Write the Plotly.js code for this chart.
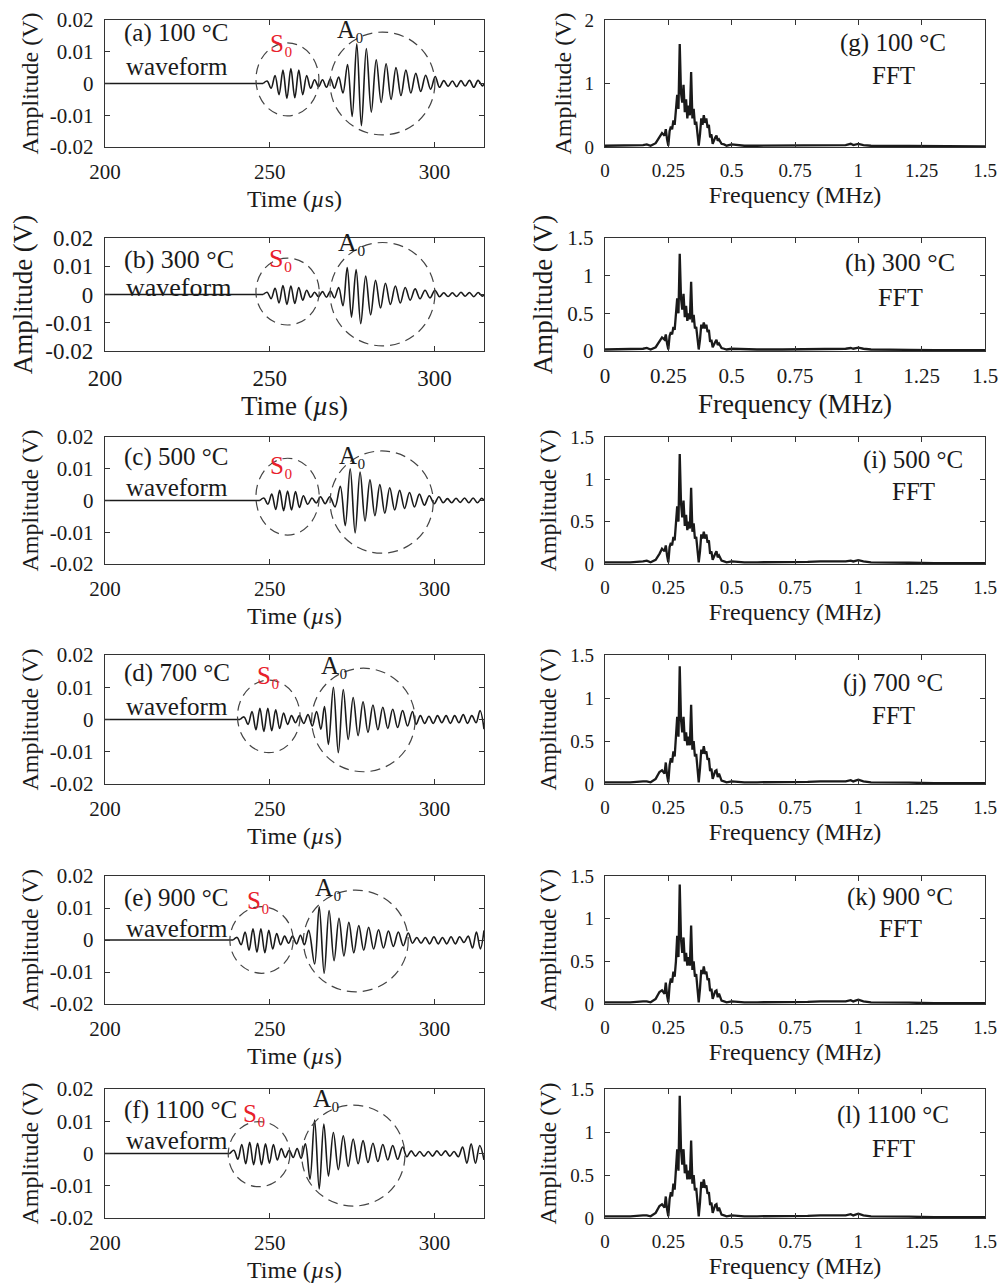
<!DOCTYPE html>
<html>
<head>
<meta charset="utf-8">
<script src="https://cdn.plot.ly/plotly-3.0.1.min.js"></script>
<style>html,body{margin:0;padding:0;background:#fff;}#chart{width:1003px;height:1287px;}</style>
</head>
<body>
<div id="chart"></div>
<script>
// ---------- Waveforms: time (µs) and amplitude (V) at the read extrema ----------
const tA = [200, 248.0, 249.2, 250.4, 251.6, 252.8, 254.0, 255.2, 256.4, 257.6,
  258.8, 260.0, 261.2, 262.4, 263.6, 264.8, 266.0, 267.2, 268.4, 269.6,
  270.9, 272.2, 273.6, 275.0, 276.4, 277.8, 279.3, 280.8, 282.3, 283.8,
  285.3, 286.8, 288.3, 289.8, 291.3, 292.8, 294.3, 295.8, 297.3, 298.8,
  300.2, 301.5, 302.8, 304.1, 305.4, 306.7, 308.0, 309.3, 310.6, 311.9,
  313.2, 314.5, 315];
const vA = [0, 0, 0.0008, -0.0015, 0.0025, -0.0035, 0.0042, -0.0047, 0.0047, -0.0045,
  0.0042, -0.0035, 0.0025, -0.0015, 0.0012, -0.0010, 0.0012, -0.0012, 0.0015, -0.0015,
  0.0020, -0.0030, 0.0060, -0.0104, 0.0125, -0.0133, 0.0110, -0.0090, 0.0075, -0.0060,
  0.0062, -0.0050, 0.0050, -0.0038, 0.0042, -0.0030, 0.0032, -0.0025, 0.0026, -0.0018,
  0.0022, -0.0012, 0.0009, -0.0009, 0.0008, -0.0010, 0.0009, -0.0008, 0.0010, -0.0012,
  0.0010, -0.0008, 0];

const tB = [200, 248.0, 249.2, 250.4, 251.6, 252.8, 254.0, 255.2, 256.4, 257.6,
  258.8, 260.0, 261.2, 262.4, 263.6, 264.8, 266.0, 267.2, 268.4, 269.6,
  270.9, 272.2, 273.5, 274.8, 276.2, 277.6, 279.1, 280.6, 282.1, 283.6,
  285.1, 286.6, 288.1, 289.6, 291.1, 292.6, 294.1, 295.6, 297.1, 298.6,
  300.1, 301.5, 302.8, 304.1, 305.4, 306.7, 308.0, 309.3, 310.6, 311.9,
  313.2, 314.5, 315];
const vB = [0, 0, 0.0008, -0.0015, 0.0022, -0.0030, 0.0032, -0.0035, 0.0030, -0.0032,
  0.0025, -0.0020, 0.0015, -0.0010, 0.0008, -0.0008, 0.0010, -0.0010, 0.0012, -0.0012,
  0.0025, -0.0040, 0.0095, -0.0080, 0.0088, -0.0103, 0.0065, -0.0072, 0.0050, -0.0048,
  0.0040, -0.0035, 0.0030, -0.0030, 0.0025, -0.0020, 0.0020, -0.0015, 0.0015, -0.0012,
  0.0015, -0.0008, 0.0006, -0.0007, 0.0006, -0.0007, 0.0008, -0.0006, 0.0007, -0.0008,
  0.0007, -0.0006, 0];

const tC = [200, 247.0, 248.2, 249.4, 250.6, 251.8, 253.0, 254.2, 255.4, 256.6,
  257.8, 259.0, 260.2, 261.5, 262.8, 264.1, 265.4, 266.8, 268.2,
  269.8, 271.4, 272.9, 274.4, 275.9, 277.4, 278.9, 280.4, 281.9, 283.4,
  284.9, 286.4, 287.9, 289.4, 290.9, 292.4, 293.9, 295.4, 296.9, 298.4,
  299.9, 301.3, 302.6, 303.9, 305.2, 306.5, 307.8, 309.1, 310.4, 311.7,
  313.0, 314.3, 315];
const vC = [0, 0, 0.0008, -0.0012, 0.0020, -0.0028, 0.0032, -0.0032, 0.0030, -0.0030,
  0.0028, -0.0022, 0.0015, -0.0012, 0.0008, -0.0008, 0.0012, -0.0010, 0.0012,
  -0.0020, 0.0045, -0.0079, 0.0100, -0.0102, 0.0090, -0.0065, 0.0065, -0.0048, 0.0050,
  -0.0040, 0.0040, -0.0030, 0.0032, -0.0025, 0.0025, -0.0020, 0.0020, -0.0015, 0.0015,
  -0.0010, 0.0012, -0.0007, 0.0006, -0.0007, 0.0007, -0.0006, 0.0008, -0.0007, 0.0008,
  -0.0007, 0.0007, 0];

const tD = [200, 241.0, 242.2, 243.4, 244.6, 245.8, 247.0, 248.2, 249.4, 250.6,
  251.8, 253.0, 254.2, 255.4, 256.6, 257.8, 259.0, 260.3, 261.6, 262.9,
  264.2, 265.5, 266.6, 267.8, 269.3, 270.8, 272.3, 273.8, 275.3, 276.8,
  278.3, 279.8, 281.3, 282.8, 284.3, 285.8, 287.3, 288.8, 290.3, 291.8,
  293.3, 294.4, 295.7, 297.0, 298.3, 299.6, 300.9, 302.2, 303.5, 304.8,
  306.1, 307.4, 308.7, 310.0, 311.3, 312.6, 313.8, 315];
const vD = [0, 0, 0.0008, -0.0015, 0.0025, -0.0032, 0.0035, -0.0037, 0.0035, -0.0035,
  0.0030, -0.0028, 0.0020, -0.0015, 0.0012, -0.0010, 0.0012, -0.0012, 0.0015, -0.0020,
  0.0025, -0.0030, 0.0040, -0.0077, 0.0100, -0.0103, 0.0093, -0.0062, 0.0068, -0.0050,
  0.0055, -0.0040, 0.0045, -0.0032, 0.0038, -0.0028, 0.0032, -0.0025, 0.0028, -0.0020,
  0.0025, -0.0015, 0.0012, -0.0012, 0.0010, -0.0012, 0.0012, -0.0010, 0.0012, -0.0012,
  0.0012, -0.0010, 0.0015, -0.0012, 0.0012, -0.0010, 0.0028, -0.0030];

const tE = [200, 238.9, 240.1, 241.3, 242.5, 243.7, 244.9, 246.1, 247.3, 248.5,
  249.7, 250.9, 252.1, 253.3, 254.5, 255.7, 256.9, 258.1, 259.3, 260.5,
  261.8, 263.6, 265.0, 266.5, 268.0, 269.5, 271.0, 272.5, 274.0, 275.5,
  277.0, 278.5, 280.0, 281.5, 283.0, 284.5, 286.0, 287.5, 289.0, 290.5,
  292.0, 293.3, 294.6, 295.9, 297.2, 298.5, 299.8, 301.1, 302.4, 303.7,
  305.0, 306.3, 307.6, 308.9, 310.2, 311.5, 312.7, 313.9, 315];
const vE = [0, 0, 0.0008, -0.0015, 0.0025, -0.0032, 0.0035, -0.0038, 0.0035, -0.0040,
  0.0030, -0.0028, 0.0020, -0.0015, 0.0012, -0.0010, 0.0012, -0.0012, 0.0015, -0.0015,
  0.0030, -0.0075, 0.0104, -0.0104, 0.0092, -0.0065, 0.0068, -0.0050, 0.0055, -0.0040,
  0.0045, -0.0032, 0.0040, -0.0028, 0.0032, -0.0025, 0.0028, -0.0020, 0.0025, -0.0018,
  0.0022, -0.0010, 0.0008, -0.0010, 0.0008, -0.0012, 0.0010, -0.0012, 0.0008, -0.0012,
  0.0010, -0.0012, 0.0010, -0.0008, 0.0012, -0.0025, 0.0025, -0.0028, 0.0030];

const tF = [200, 237.9, 239.1, 240.3, 241.5, 242.7, 243.9, 245.1, 246.3, 247.5,
  248.7, 249.9, 251.1, 252.3, 253.5, 254.7, 255.9, 257.1, 258.3, 259.5,
  260.8, 262.2, 263.6, 265.0, 266.4, 267.8, 269.3, 270.8, 272.3, 273.8,
  275.3, 276.8, 278.3, 279.8, 281.3, 282.8, 284.3, 285.8, 287.3, 288.8,
  290.3, 291.6, 292.9, 294.2, 295.5, 296.8, 298.1, 299.4, 300.7, 302.0,
  303.3, 304.6, 305.9, 307.2, 308.5, 309.8, 311.1, 312.4, 313.7, 315];
const vF = [0, 0, 0.0010, -0.0018, 0.0028, -0.0032, 0.0035, -0.0035, 0.0032, -0.0035,
  0.0030, -0.0030, 0.0028, -0.0020, 0.0015, -0.0012, 0.0010, -0.0012, 0.0015, -0.0015,
  0.0030, -0.0080, 0.0104, -0.0110, 0.0091, -0.0070, 0.0065, -0.0050, 0.0055, -0.0040,
  0.0045, -0.0032, 0.0040, -0.0028, 0.0032, -0.0025, 0.0028, -0.0020, 0.0025, -0.0018,
  0.0020, -0.0010, 0.0008, -0.0008, 0.0006, -0.0008, 0.0006, -0.0008, 0.0008, -0.0006,
  0.0008, -0.0008, 0.0006, -0.0010, 0.0020, -0.0030, 0.0030, -0.0030, 0.0025, -0.0020];

// ---------- FFT spectra: frequency (MHz) and amplitude (V) ----------
const fftFreq = [0, 0.05, 0.1, 0.15, 0.165, 0.18, 0.2, 0.215, 0.225, 0.235,
  0.24, 0.245, 0.25, 0.255, 0.26, 0.265, 0.27, 0.275, 0.28, 0.285,
  0.29, 0.295, 0.3, 0.305, 0.31, 0.315, 0.32, 0.325, 0.33, 0.335,
  0.34, 0.345, 0.35, 0.355, 0.36, 0.365, 0.37, 0.375, 0.38, 0.385,
  0.39, 0.395, 0.4, 0.405, 0.41, 0.415, 0.42, 0.425, 0.43, 0.435,
  0.44, 0.445, 0.45, 0.46, 0.47, 0.48, 0.5, 0.55, 0.6, 0.7,
  0.75, 0.8, 0.85, 0.9, 0.95, 0.97, 0.98, 1.0, 1.02, 1.05,
  1.1, 1.2, 1.3, 1.4, 1.5];
const fftG = [0.02, 0.02, 0.02, 0.03, 0.04, 0.02, 0.06, 0.15, 0.22, 0.18,
  0.28, 0.12, 0.02, 0.25, 0.32, 0.28, 0.42, 0.35, 0.55, 0.82,
  0.6, 1.62, 0.85, 0.7, 0.98, 0.55, 0.75, 0.45, 0.65, 0.5,
  1.18, 0.45, 0.6, 0.35, 0.4, 0.2, 0.02, 0.2, 0.45, 0.35,
  0.5, 0.38, 0.45, 0.3, 0.35, 0.15, 0.2, 0.05, 0.12, 0.15,
  0.18, 0.1, 0.12, 0.05, 0.04, 0.02, 0.04, 0.02, 0.02, 0.02,
  0.02, 0.025, 0.03, 0.03, 0.03, 0.05, 0.03, 0.05, 0.03, 0.02,
  0.02, 0.015, 0.01, 0.01, 0.01];
const fftH = [0.02, 0.02, 0.02, 0.03, 0.04, 0.02, 0.05, 0.12, 0.18, 0.15,
  0.22, 0.1, 0.02, 0.2, 0.25, 0.22, 0.32, 0.28, 0.45, 0.7,
  0.5, 1.29, 0.7, 0.55, 0.76, 0.45, 0.6, 0.4, 0.5, 0.42,
  0.92, 0.38, 0.48, 0.3, 0.32, 0.15, 0.02, 0.15, 0.35, 0.3,
  0.38, 0.3, 0.35, 0.25, 0.28, 0.12, 0.15, 0.05, 0.1, 0.12,
  0.15, 0.08, 0.1, 0.04, 0.03, 0.02, 0.03, 0.02, 0.02, 0.02,
  0.02, 0.025, 0.03, 0.03, 0.03, 0.04, 0.03, 0.045, 0.03, 0.02,
  0.02, 0.015, 0.01, 0.01, 0.01];
const fftI = [0.02, 0.02, 0.02, 0.03, 0.04, 0.02, 0.05, 0.12, 0.18, 0.15,
  0.22, 0.1, 0.02, 0.2, 0.25, 0.22, 0.32, 0.28, 0.45, 0.68,
  0.5, 1.30, 0.72, 0.55, 0.75, 0.45, 0.58, 0.4, 0.5, 0.42,
  0.90, 0.38, 0.48, 0.3, 0.32, 0.15, 0.02, 0.15, 0.35, 0.3,
  0.38, 0.3, 0.35, 0.25, 0.28, 0.12, 0.15, 0.05, 0.1, 0.12,
  0.15, 0.08, 0.1, 0.04, 0.03, 0.02, 0.03, 0.02, 0.02, 0.02,
  0.02, 0.025, 0.03, 0.03, 0.03, 0.04, 0.03, 0.045, 0.03, 0.02,
  0.02, 0.015, 0.01, 0.01, 0.01];
const fftJ = [0.02, 0.02, 0.02, 0.03, 0.03, 0.02, 0.06, 0.14, 0.16, 0.12,
  0.25, 0.1, 0.02, 0.22, 0.3, 0.25, 0.38, 0.32, 0.5, 0.78,
  0.55, 1.37, 0.75, 0.6, 0.78, 0.5, 0.6, 0.45, 0.55, 0.45,
  0.92, 0.4, 0.5, 0.32, 0.35, 0.18, 0.02, 0.18, 0.4, 0.35,
  0.44, 0.35, 0.38, 0.28, 0.3, 0.15, 0.18, 0.06, 0.12, 0.15,
  0.16, 0.08, 0.12, 0.04, 0.03, 0.02, 0.03, 0.02, 0.02, 0.02,
  0.02, 0.025, 0.03, 0.03, 0.03, 0.045, 0.03, 0.05, 0.03, 0.02,
  0.02, 0.015, 0.01, 0.01, 0.01];
const fftK = [0.02, 0.02, 0.02, 0.03, 0.03, 0.02, 0.06, 0.14, 0.16, 0.12,
  0.25, 0.1, 0.02, 0.22, 0.3, 0.25, 0.38, 0.32, 0.5, 0.8,
  0.55, 1.40, 0.76, 0.6, 0.78, 0.5, 0.6, 0.45, 0.55, 0.45,
  0.92, 0.4, 0.5, 0.32, 0.35, 0.18, 0.02, 0.18, 0.4, 0.35,
  0.44, 0.35, 0.38, 0.28, 0.3, 0.15, 0.18, 0.06, 0.12, 0.15,
  0.16, 0.08, 0.12, 0.04, 0.03, 0.02, 0.03, 0.02, 0.02, 0.02,
  0.02, 0.025, 0.03, 0.03, 0.03, 0.045, 0.03, 0.05, 0.03, 0.02,
  0.02, 0.015, 0.01, 0.01, 0.01];
const fftL = [0.02, 0.02, 0.02, 0.03, 0.03, 0.02, 0.06, 0.14, 0.16, 0.12,
  0.25, 0.1, 0.02, 0.22, 0.3, 0.25, 0.4, 0.33, 0.52, 0.8,
  0.55, 1.42, 0.8, 0.62, 0.8, 0.52, 0.62, 0.45, 0.55, 0.45,
  0.90, 0.4, 0.5, 0.32, 0.35, 0.18, 0.02, 0.18, 0.42, 0.35,
  0.45, 0.35, 0.38, 0.28, 0.3, 0.15, 0.18, 0.06, 0.12, 0.15,
  0.16, 0.08, 0.12, 0.04, 0.03, 0.02, 0.03, 0.02, 0.02, 0.02,
  0.02, 0.025, 0.03, 0.03, 0.03, 0.045, 0.03, 0.05, 0.03, 0.02,
  0.02, 0.015, 0.01, 0.01, 0.01];

// ---------- Labels and ticks ----------
const tempLabels = ['100', '300', '500', '700', '900', '1100'];
const waveLetters = ['a', 'b', 'c', 'd', 'e', 'f'];
const fftLetters = ['g', 'h', 'i', 'j', 'k', 'l'];
const waveTickVals = [-0.02, -0.01, 0, 0.01, 0.02];
const waveTickText = ['-0.02', '-0.01', '0', '0.01', '0.02'];
const timeTicks = [200, 250, 300];
const freqTickVals = [0, 0.25, 0.5, 0.75, 1, 1.25, 1.5];
const freqTickText = ['0', '0.25', '0.5', '0.75', '1', '1.25', '1.5'];

// ---------- Layout geometry (pixels in the 1003x1287 page) ----------
const W = 1003, H = 1287;
const rowTop = [20, 238, 437, 655, 876, 1089];
const rowBot = [147, 351, 564, 784, 1004, 1218];
const leftX = [105, 484], rightX = [605, 985];
const bigRow = 1; // second row uses larger text

// circles around S0 / A0 packets, in data units [x0, x1, y0, y1]
const s0Circles = [[245.8, 264.9, -0.0102, 0.0128], [245.8, 265.0, -0.0108, 0.0129], [245.8, 265.0, -0.0109, 0.0133],
  [240.2, 259.2, -0.0103, 0.0122], [237.9, 257.1, -0.0104, 0.0104], [237.4, 256.1, -0.0103, 0.0099]];
const a0Circles = [[268.3, 300.1, -0.0162, 0.0162], [268.3, 300.1, -0.0182, 0.0184], [268.3, 299.6, -0.0166, 0.0156],
  [262.7, 294.1, -0.0162, 0.0159], [260.2, 292.0, -0.0162, 0.0156], [259.7, 291.0, -0.0163, 0.0150]];
// label positions in pixels
const s0Pos = [[281, 44], [281, 258], [281, 465], [268, 675], [258, 900], [254, 1113]];
const a0Pos = [[350, 30], [352, 243], [352, 455], [334, 665], [328, 887], [326, 1098]];
const waveLabelY = [[33, 66], [260, 288], [457, 487], [673, 706], [898, 928], [1110, 1140]];
const fftLabelPos = [[893, 43, 75], [900, 262, 297], [913, 460, 492], [893, 683, 715], [900, 897, 928], [893, 1115, 1148]];

const waveT = [tA, tB, tC, tD, tE, tF];
const waveV = [vA, vB, vC, vD, vE, vF];
const fftAmp = [fftG, fftH, fftI, fftJ, fftK, fftL];

const FONT = 'Liberation Serif, Times New Roman, serif';
const INK = '#1a1a1a';
const px2x = p => p / W;
const px2y = p => 1 - p / H;

const data = [];
const layout = {
  width: W, height: H,
  margin: {l: 0, r: 0, t: 0, b: 0},
  paper_bgcolor: '#ffffff', plot_bgcolor: '#ffffff',
  showlegend: false,
  font: {family: FONT, color: INK},
  annotations: [], shapes: []
};

function axisBase() {
  return {
    showline: true, mirror: 'ticks', linecolor: '#333', linewidth: 1.2,
    ticks: 'inside', ticklen: 5, tickcolor: '#333', tickwidth: 1,
    showgrid: false, zeroline: false, fixedrange: true,
    ticklabelstandoff: 6
  };
}

for (let r = 0; r < 6; r++) {
  const big = (r === bigRow);
  const yDom = [px2y(rowBot[r]), px2y(rowTop[r])];
  const nL = 2 * r + 1, nR = 2 * r + 2;
  const xL = 'x' + nL, yL = 'y' + nL, xR = 'x' + nR, yR = 'y' + nR;
  const keyX = n => n === 1 ? 'xaxis' : 'xaxis' + n;
  const keyY = n => n === 1 ? 'yaxis' : 'yaxis' + n;
  const tickL = big ? 23 : 21, tickR = big ? 21 : 19, titleF = big ? 27 : 24, annF = big ? 26 : 25;

  // waveform: straight quiet part before the first arrival, then the oscillating part
  data.push({
    type: 'scatter', mode: 'lines', x: waveT[r].slice(0, 2), y: waveV[r].slice(0, 2),
    xaxis: xL, yaxis: yL, line: {color: INK, width: 1.6}, hoverinfo: 'skip'
  });
  data.push({
    type: 'scatter', mode: 'lines', x: waveT[r].slice(1), y: waveV[r].slice(1),
    xaxis: xL, yaxis: yL,
    line: {color: INK, width: 1.6, shape: 'spline', smoothing: 1},
    hoverinfo: 'skip'
  });
  // FFT trace
  data.push({
    type: 'scatter', mode: 'lines', x: fftFreq, y: fftAmp[r],
    xaxis: xR, yaxis: yR,
    line: {color: INK, width: 2.3},
    hoverinfo: 'skip'
  });

  layout[keyX(nL)] = Object.assign(axisBase(), {
    domain: [px2x(leftX[0]), px2x(leftX[1])], anchor: yL, range: [200, 315],
    tickvals: timeTicks, tickfont: {size: tickL, family: FONT, color: INK},
    title: {text: 'Time (<i>µ</i>s)', font: {size: titleF, family: FONT, color: INK}, standoff: 6}
  });
  layout[keyY(nL)] = Object.assign(axisBase(), {
    domain: yDom, anchor: xL, range: [-0.02, 0.02],
    tickvals: waveTickVals, ticktext: waveTickText, tickfont: {size: tickL, family: FONT, color: INK},
    title: {text: 'Amplitude (V)', font: {size: titleF, family: FONT, color: INK}, standoff: 4}
  });
  const yMax = r === 0 ? 2 : 1.5;
  layout[keyX(nR)] = Object.assign(axisBase(), {
    domain: [px2x(rightX[0]), px2x(rightX[1])], anchor: yR, range: [0, 1.5],
    tickvals: freqTickVals, ticktext: freqTickText, tickfont: {size: tickR, family: FONT, color: INK},
    title: {text: 'Frequency (MHz)', font: {size: titleF, family: FONT, color: INK}, standoff: 6}
  });
  layout[keyY(nR)] = Object.assign(axisBase(), {
    domain: yDom, anchor: xR, range: [0, yMax],
    tickvals: r === 0 ? [0, 1, 2] : [0, 0.5, 1, 1.5],
    ticktext: r === 0 ? ['0', '1', '2'] : ['0', '0.5', '1', '1.5'],
    tickfont: {size: tickR, family: FONT, color: INK},
    title: {text: 'Amplitude (V)', font: {size: titleF, family: FONT, color: INK}, standoff: 6}
  });

  // dashed circles
  [s0Circles[r], a0Circles[r]].forEach(c => {
    layout.shapes.push({
      type: 'circle', xref: xL, yref: yL, x0: c[0], x1: c[1], y0: c[2], y1: c[3],
      line: {color: '#444', width: 1.2, dash: '10px,6px'}, layer: 'above'
    });
  });

  // panel text (waveform)
  layout.annotations.push({
    xref: 'paper', yref: 'paper', x: px2x(122), y: px2y(waveLabelY[r][0]),
    xanchor: 'left', yanchor: 'middle', showarrow: false,
    text: '(' + waveLetters[r] + ') ' + tempLabels[r] + ' °C', font: {size: annF, family: FONT, color: INK}
  });
  layout.annotations.push({
    xref: 'paper', yref: 'paper', x: px2x(124), y: px2y(waveLabelY[r][1]),
    xanchor: 'left', yanchor: 'middle', showarrow: false,
    text: 'waveform', font: {size: annF, family: FONT, color: INK}
  });
  layout.annotations.push({
    xref: 'paper', yref: 'paper', x: px2x(s0Pos[r][0]), y: px2y(s0Pos[r][1]),
    xanchor: 'center', yanchor: 'middle', showarrow: false,
    text: 'S₀', font: {size: annF, family: FONT, color: '#e8202a'}
  });
  layout.annotations.push({
    xref: 'paper', yref: 'paper', x: px2x(a0Pos[r][0]), y: px2y(a0Pos[r][1]),
    xanchor: 'center', yanchor: 'middle', showarrow: false,
    text: 'A₀', font: {size: annF, family: FONT, color: INK}
  });
  // panel text (FFT)
  layout.annotations.push({
    xref: 'paper', yref: 'paper', x: px2x(fftLabelPos[r][0]), y: px2y(fftLabelPos[r][1]),
    xanchor: 'center', yanchor: 'middle', showarrow: false,
    text: '(' + fftLetters[r] + ') ' + tempLabels[r] + ' °C', font: {size: annF, family: FONT, color: INK}
  });
  layout.annotations.push({
    xref: 'paper', yref: 'paper', x: px2x(fftLabelPos[r][0]), y: px2y(fftLabelPos[r][2]),
    xanchor: 'center', yanchor: 'middle', showarrow: false,
    text: 'FFT', font: {size: annF, family: FONT, color: INK}
  });
}

Plotly.newPlot('chart', data, layout, {staticPlot: true, displayModeBar: false});
</script>
</body>
</html>
